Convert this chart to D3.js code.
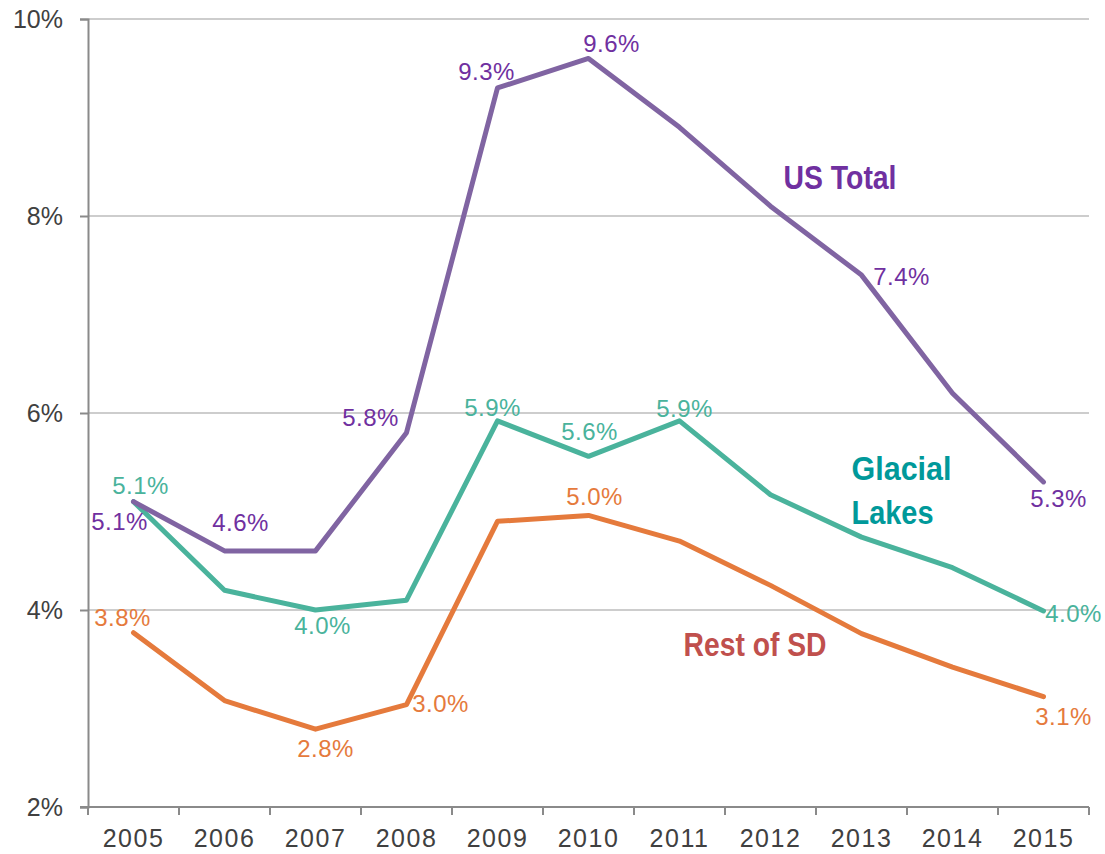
<!DOCTYPE html>
<html>
<head>
<meta charset="utf-8">
<script src="https://cdn.jsdelivr.net/npm/d3@7"></script>
<style>
  body { margin: 0; background: #fff; }
  text { font-family: "Liberation Sans", Arial, sans-serif; }
</style>
</head>
<body>
<script>
// data
const years = ["2005", "2006", "2007", "2008", "2009", "2010", "2011", "2012", "2013", "2014", "2015"];
const usTotal = [5.1, 4.6, 4.6, 5.8, 9.3, 9.6, 8.9, 8.1, 7.4, 6.2, 5.3];
const glacialLakes = [5.1, 4.2, 4.0, 4.1, 5.92, 5.56, 5.92, 5.17, 4.74, 4.43, 3.99];
const restOfSD = [3.77, 3.08, 2.79, 3.04, 4.9, 4.96, 4.7, 4.25, 3.76, 3.42, 3.12];
const yTicks = [2, 4, 6, 8, 10];

// which points get a value label, and where (offset from the point)
const usLabels = [[0, -14, 28], [1, 16, -20], [3, -36, -7], [4, -11, -8], [5, 23, -6], [8, 40, 10], [10, 15, 25]];
const glLabels = [[0, 7, -8], [2, 7, 24], [4, -5, -5], [5, 1, -16], [6, 5, -4], [10, 30, 11]];
const sdLabels = [[0, -11, -7], [2, 10, 28], [3, 34, 7], [5, 6, -10], [10, 20, 28]];

const width = 1105, height = 854;
const margin = { top: 19, right: 16, bottom: 47, left: 88 };

const svg = d3.select("body").append("svg")
  .attr("width", width)
  .attr("height", height);

const x = d3.scaleBand()
  .domain(years)
  .range([margin.left, width - margin.right]);

const y = d3.scaleLinear()
  .domain([2, 10])
  .range([height - margin.bottom, margin.top]);

const cx = d => x(d) + x.bandwidth() / 2;

// gridlines
svg.append("g")
  .selectAll("line")
  .data(yTicks.slice(1))
  .enter().append("line")
  .attr("x1", margin.left)
  .attr("x2", width - margin.right)
  .attr("y1", d => y(d))
  .attr("y2", d => y(d))
  .attr("stroke", "#bdbdbd")
  .attr("stroke-width", 1.5);

// y axis
const yAxis = svg.append("g")
  .attr("transform", "translate(" + margin.left + ",0)")
  .call(d3.axisLeft(y).tickValues(yTicks).tickSize(8).tickPadding(17).tickFormat(d => d + "%"));
yAxis.select(".domain").attr("stroke", "#8a8a8a").attr("stroke-width", 2);
yAxis.selectAll(".tick line").attr("stroke", "#8a8a8a").attr("stroke-width", 2);
yAxis.selectAll("text")
  .attr("fill", "#404040")
  .style("font-size", "25px")
  .attr("dy", "0.35em");

// x axis (ticks between categories)
const xAxis = svg.append("g")
  .attr("transform", "translate(0," + y(2) + ")");
xAxis.append("line")
  .attr("x1", margin.left - 8)
  .attr("x2", width - margin.right)
  .attr("stroke", "#8a8a8a")
  .attr("stroke-width", 2);
xAxis.selectAll(".xtick")
  .data(years.concat(["end"]))
  .enter().append("line")
  .attr("x1", (d, i) => i < years.length ? x(d) : x(years[years.length - 1]) + x.bandwidth())
  .attr("x2", (d, i) => i < years.length ? x(d) : x(years[years.length - 1]) + x.bandwidth())
  .attr("y1", 0)
  .attr("y2", 8)
  .attr("stroke", "#8a8a8a")
  .attr("stroke-width", 2);
xAxis.selectAll(".xlabel")
  .data(years)
  .enter().append("text")
  .attr("x", d => cx(d))
  .attr("y", 40)
  .attr("text-anchor", "middle")
  .attr("fill", "#404040")
  .style("font-size", "25px")
  .style("letter-spacing", "1.5px")
  .text(d => d);

const line = d3.line()
  .x((d, i) => cx(years[i]))
  .y(d => y(d));

const series = [
  { values: restOfSD, stroke: "#e57a3c", text: "#e57a3c", labels: sdLabels },
  { values: glacialLakes, stroke: "#4ab39c", text: "#4ab39c", labels: glLabels },
  { values: usTotal, stroke: "#8064a2", text: "#7030a0", labels: usLabels }
];

series.forEach(s => {
  svg.append("path")
    .datum(s.values)
    .attr("d", line)
    .attr("fill", "none")
    .attr("stroke", s.stroke)
    .attr("stroke-width", 5)
    .attr("stroke-linejoin", "round")
    .attr("stroke-linecap", "round");

  svg.append("g")
    .selectAll("text")
    .data(s.labels)
    .enter().append("text")
    .attr("x", d => cx(years[d[0]]) + d[1])
    .attr("y", d => y(s.values[d[0]]) + d[2])
    .attr("text-anchor", "middle")
    .attr("fill", s.text)
    .style("font-size", "24px")
    .style("letter-spacing", "0.5px")
    .text(d => s.values[d[0]].toFixed(1) + "%");
});

// series names (condensed bold)
const names = [
  { lines: ["US Total"], widths: [113], color: "#7030a0", year: "2012", value: 8.1, dx: 13, dy: -17 },
  { lines: ["Glacial", "Lakes"], widths: [100, 82], color: "#00999a", year: "2013", value: 7.4, dx: -10, dy: 205 },
  { lines: ["Rest of SD"], widths: [143], color: "#c0504d", year: "2011", value: 4.7, dx: 4, dy: 115 }
];

names.forEach(n => {
  n.lines.forEach((l, i) => {
    svg.append("text")
      .attr("x", cx(n.year) + n.dx)
      .attr("y", y(n.value) + n.dy + i * 44)
      .attr("fill", n.color)
      .attr("textLength", n.widths[i])
      .attr("lengthAdjust", "spacingAndGlyphs")
      .style("font-weight", "bold")
      .style("font-size", "34px")
      .text(l);
  });
});
</script>
</body>
</html>
